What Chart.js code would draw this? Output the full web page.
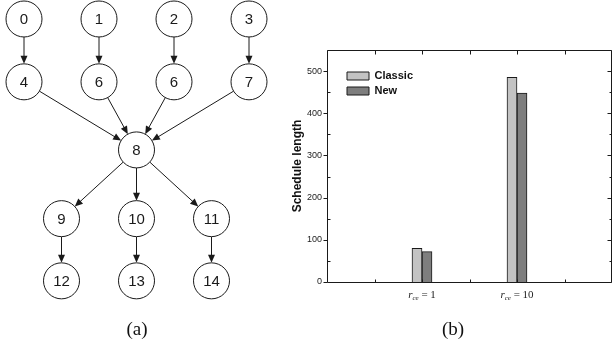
<!DOCTYPE html>
<html>
<head>
<meta charset="utf-8">
<script src="https://cdn.jsdelivr.net/npm/chart.js@4.4.0/dist/chart.umd.min.js"></script>
<style>
    html, body { margin: 0; padding: 0; background: #fff; }
    body { width: 613px; height: 345px; position: relative; overflow: hidden; }
    #graph-box { position: absolute; left: 0; top: 0; width: 300px; height: 345px; }
    #bars-box { position: absolute; left: 285px; top: 0; width: 328px; height: 310px; }
    .caption {
        position: absolute; top: 318px; width: 60px; margin-left: -30px; text-align: center;
        font-family: "Liberation Serif", "Times New Roman", serif; font-size: 19px; line-height: 22px; color: #111;
    }
</style>
</head>
<body>
<div id="graph-box"><canvas id="graph-chart"></canvas></div>
<div id="bars-box"><canvas id="bars-chart"></canvas></div>
<div class="caption" style="left: 137px;">(a)</div>
<div class="caption" style="left: 453px;">(b)</div>
<script>
// (a) task graph: node labels, column / level of each node, edges as [from, to]
const nodeLabels = ['0', '1', '2', '3', '4', '6', '6', '7', '8', '9', '10', '11', '12', '13', '14'];
const nodeColumns = [0, 1, 2, 3, 0, 1, 2, 3, 1.5, 0.5, 1.5, 2.5, 0.5, 1.5, 2.5];
const nodeLevels = [0, 0, 0, 0, 0.96, 0.96, 0.96, 0.96, 2, 3.05, 3.05, 3.05, 4, 4, 4];
const edges = [[0, 4], [1, 5], [2, 6], [3, 7], [4, 8], [5, 8], [6, 8], [7, 8], [8, 9], [8, 10], [8, 11], [9, 12], [10, 13], [11, 14]];

// (b) schedule length
const categories = ['', 'r_ce = 1', 'r_ce = 10', ''];
const classicValues = [null, 80, 485, null];
const newValues = [null, 72, 448, null];
const yTicks = [0, 100, 200, 300, 400, 500];

const INK = '#1a1a1a';
const NODE_R = 18;
const SANS = '"Liberation Sans", Arial, sans-serif';
const SERIF = '"Liberation Serif", "Times New Roman", serif';

// стрелки между вершинами (рисуются под кружками)
const edgePlugin = {
    id: 'edges',
    beforeDatasetsDraw(chart) {
        const ctx = chart.ctx;
        const xs = chart.scales.x;
        const ys = chart.scales.y;
        ctx.save();
        ctx.strokeStyle = INK;
        ctx.fillStyle = INK;
        ctx.lineWidth = 1;
        edges.forEach(([a, b]) => {
            const x1 = xs.getPixelForValue(nodeColumns[a]);
            const y1 = ys.getPixelForValue(nodeLevels[a]);
            const x2 = xs.getPixelForValue(nodeColumns[b]);
            const y2 = ys.getPixelForValue(nodeLevels[b]);
            const len = Math.hypot(x2 - x1, y2 - y1);
            const ux = (x2 - x1) / len, uy = (y2 - y1) / len;
            const sx = x1 + ux * NODE_R, sy = y1 + uy * NODE_R;
            const ex = x2 - ux * NODE_R, ey = y2 - uy * NODE_R;
            ctx.beginPath();
            ctx.moveTo(sx, sy);
            ctx.lineTo(ex - ux * 6, ey - uy * 6);
            ctx.stroke();
            ctx.beginPath();
            ctx.moveTo(ex, ey);
            ctx.lineTo(ex - ux * 8 - uy * 3.5, ey - uy * 8 + ux * 3.5);
            ctx.lineTo(ex - ux * 8 + uy * 3.5, ey - uy * 8 - ux * 3.5);
            ctx.closePath();
            ctx.fill();
        });
        ctx.restore();
    },
    afterDatasetsDraw(chart) {
        const ctx = chart.ctx;
        const meta = chart.getDatasetMeta(0);
        ctx.save();
        ctx.fillStyle = INK;
        ctx.font = '15px ' + SANS;
        ctx.textAlign = 'center';
        ctx.textBaseline = 'middle';
        meta.data.forEach((pt, i) => {
            ctx.fillText(nodeLabels[i], pt.x, pt.y + 1);
        });
        ctx.restore();
    }
};

new Chart(document.querySelector('#graph-chart'), {
    type: 'scatter',
    data: {
        datasets: [{
            data: nodeColumns.map((c, i) => ({x: c, y: nodeLevels[i]})),
            pointRadius: NODE_R,
            pointHoverRadius: NODE_R,
            pointBackgroundColor: '#fff',
            pointBorderColor: INK,
            pointBorderWidth: 1,
            clip: false
        }]
    },
    options: {
        responsive: true,
        maintainAspectRatio: false,
        animation: false,
        events: [],
        layout: {padding: 0, autoPadding: false},
        scales: {
            x: {type: 'linear', display: false, min: -0.32, max: 3.68},
            y: {type: 'linear', display: false, reverse: true, min: -0.29, max: 4.98}
        },
        plugins: {legend: {display: false}, tooltip: {enabled: false}}
    },
    plugins: [edgePlugin]
});

// рамка вокруг графика, засечки и подписи r_ce
const framePlugin = {
    id: 'frame',
    afterLayout(chart) {
        // легенда внутри области графика, с отступом от левого верхнего угла
        chart.legend.left = chart.chartArea.left + 16;
        chart.legend.top = chart.chartArea.top + 16.5;
    },
    afterDatasetsDraw(chart) {
        const {ctx, chartArea: a} = chart;
        const xs = chart.scales.x;
        const ys = chart.scales.y;
        const L = Math.round(a.left) + 0.5, R = Math.round(a.right) - 0.5;
        const T = Math.round(a.top) + 0.5, B = Math.round(a.bottom) + 0.5;
        ctx.save();
        ctx.strokeStyle = INK;
        ctx.lineWidth = 1;
        ctx.beginPath();
        ctx.moveTo(L, T); ctx.lineTo(R, T); ctx.lineTo(R, B); ctx.lineTo(L, B); ctx.closePath();
        ctx.stroke();

        ctx.beginPath();
        yTicks.forEach(v => {
            const y = Math.round(ys.getPixelForValue(v)) + 0.5;
            ctx.moveTo(L - 4, y); ctx.lineTo(L, y);
            ctx.moveTo(R, y); ctx.lineTo(R - 4, y);
            const ym = Math.round(ys.getPixelForValue(v + 50)) + 0.5;
            ctx.moveTo(L, ym); ctx.lineTo(L + 3, ym);
            ctx.moveTo(R, ym); ctx.lineTo(R - 2, ym);
        });
        for (let v = 0.5; v < categories.length - 1; v += 0.5) {
            const x = Math.round(xs.getPixelForValue(v)) + 0.5;
            ctx.moveTo(x, T); ctx.lineTo(x, T + 4);
            ctx.moveTo(x, B); ctx.lineTo(x, B - 3);
        }
        ctx.stroke();

        // подписи категорий: r с индексом ce, потом " = N"
        ctx.fillStyle = '#222';
        ctx.textBaseline = 'alphabetic';
        ctx.textAlign = 'left';
        categories.forEach((label, i) => {
            if (!label) return;
            const [sym, rest] = label.split(' = ');
            const [main, sub] = sym.split('_');
            const fMain = 'italic 11px ' + SERIF;
            const fSub = 'italic 7px ' + SERIF;
            const fRest = '11px ' + SERIF;
            const tail = ' = ' + rest;
            ctx.font = fMain; const w1 = ctx.measureText(main).width;
            ctx.font = fSub; const w2 = ctx.measureText(sub).width;
            ctx.font = fRest; const w3 = ctx.measureText(tail).width;
            let x = xs.getPixelForValue(i) - (w1 + w2 + w3) / 2;
            const y = a.bottom + 16;
            ctx.font = fMain; ctx.fillText(main, x, y); x += w1;
            ctx.font = fSub; ctx.fillText(sub, x, y + 2); x += w2;
            ctx.font = fRest; ctx.fillText(tail, x, y);
        });
        ctx.restore();
    }
};

new Chart(document.querySelector('#bars-chart'), {
    type: 'bar',
    data: {
        labels: categories,
        datasets: [{
            label: 'Classic',
            data: classicValues,
            backgroundColor: '#c3c3c3',
            borderColor: INK,
            borderWidth: 1,
            barThickness: 10
        }, {
            label: 'New',
            data: newValues,
            backgroundColor: '#7e7e7e',
            borderColor: INK,
            borderWidth: 1,
            barThickness: 10
        }]
    },
    options: {
        responsive: true,
        maintainAspectRatio: false,
        animation: false,
        events: [],
        layout: {padding: {top: 50, right: 1, left: 0, bottom: 0}},
        scales: {
            x: {
                offset: false,
                grid: {display: false, drawTicks: false},
                border: {display: false},
                ticks: {display: false},
                afterFit: scale => { scale.height = 28; }
            },
            y: {
                min: 0,
                max: 550,
                grid: {display: false, drawTicks: false},
                border: {display: false},
                afterBuildTicks: scale => { scale.ticks = yTicks.map(v => ({value: v})); },
                ticks: {padding: 5, color: '#222', font: {family: SANS, size: 9}},
                title: {
                    display: true,
                    text: 'Schedule length',
                    color: '#111',
                    padding: {top: 5, bottom: 0},
                    font: {family: SANS, size: 12, weight: 'bold'}
                },
                afterFit: scale => { scale.width = 42; }
            }
        },
        plugins: {
            tooltip: {enabled: false},
            legend: {
                position: 'chartArea',
                align: 'start',
                labels: {
                    boxWidth: 22,
                    boxHeight: 8,
                    padding: 4,
                    color: '#111',
                    font: {family: SANS, size: 11, weight: 'bold'}
                }
            }
        }
    },
    plugins: [framePlugin]
});
</script>
</body>
</html>
